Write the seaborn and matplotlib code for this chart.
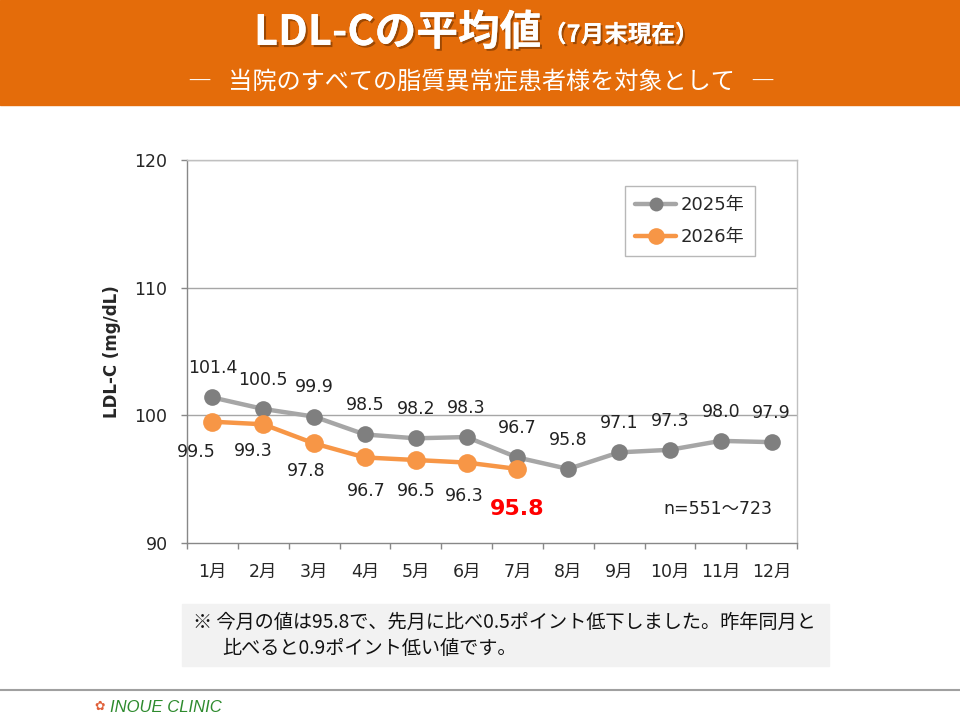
import matplotlib
matplotlib.use("Agg")
import matplotlib.pyplot as plt
import matplotlib.patheffects as pe
from matplotlib.lines import Line2D
from matplotlib.patches import Rectangle
import seaborn as sns
import pandas as pd
import numpy as np

months = ["1月", "2月", "3月", "4月", "5月", "6月", "7月", "8月", "9月", "10月", "11月", "12月"]
values_2025 = [101.4, 100.5, 99.9, 98.5, 98.2, 98.3, 96.7, 95.8, 97.1, 97.3, 98.0, 97.9]
values_2026 = [99.5, 99.3, 97.8, 96.7, 96.5, 96.3, 95.8]
series_names = ["2025年", "2026年"]
y_ticks = [90, 100, 110, 120]

sns.set_theme(style="white")
plt.rcParams['font.family'] = ['DejaVu Sans', 'Noto Sans CJK JP']
MIX = ['DejaVu Sans', 'Noto Sans CJK JP']
CJK = ['Noto Sans CJK JP', 'DejaVu Sans']

fig = plt.figure(figsize=(9.6, 7.2), dpi=100)
W, H = 960, 720

# header band
fig.patches.append(Rectangle((0, 1 - 105 / H), 1, 105 / H, transform=fig.transFigure,
                             color="#e46c0a", zorder=0))
shadow = [pe.withSimplePatchShadow(offset=(1.5, -1.5), shadow_rgbFace="#6b3000", alpha=0.6), pe.Normal()]
fig.text(541 / W, 1 - 33 / H, "LDL-Cの平均値", family=CJK, fontsize=30, fontweight="bold",
         color="white", ha="right", va="center", path_effects=shadow)
fig.text(543 / W, 1 - 35 / H, "（7月末現在）", family=CJK, fontsize=17, fontweight="bold",
         color="white", ha="left", va="center", path_effects=shadow)
fig.text(482 / W, 1 - 82 / H, "―   当院のすべての脂質異常症患者様を対象として   ―", family=CJK,
         fontsize=17.4, color="white", ha="center", va="center")

# axes
ax = fig.add_axes([187 / W, 1 - 543 / H, 610 / W, 383 / H])
df25 = pd.DataFrame({"x": np.arange(len(values_2025)), "y": values_2025})
df26 = pd.DataFrame({"x": np.arange(len(values_2026)), "y": values_2026})
sns.lineplot(data=df25, x="x", y="y", ax=ax, color="#a6a6a6", linewidth=3.2, marker="o",
             markersize=12, markerfacecolor="#7f7f7f", markeredgecolor="#7f7f7f",
             markeredgewidth=0, zorder=3)
sns.lineplot(data=df26, x="x", y="y", ax=ax, color="#f79646", linewidth=3.2, marker="o",
             markersize=13.5, markerfacecolor="#f79646", markeredgecolor="#f79646",
             markeredgewidth=0, zorder=4)

ax.set_xlim(-0.5, len(months) - 0.5)
ax.set_ylim(90, 120)
ax.set_yticks(y_ticks)
ax.set_yticklabels([str(t) for t in y_ticks], fontsize=12.5, family=['DejaVu Sans'])
ax.set_xticks(np.arange(len(months)))
ax.set_xticklabels(months, family=MIX, fontsize=12.5)
ax.set_xticks(np.arange(len(months) + 1) - 0.5, minor=True)
ax.tick_params(axis="x", which="major", length=0, pad=14)
ax.tick_params(axis="x", which="minor", length=4, direction="out", color="#888888", width=1, bottom=True)
ax.tick_params(axis="y", which="major", length=4, direction="out", color="#888888", width=1, left=True, pad=10)
ax.set_xlabel("")
ax.set_ylabel("LDL-C (mg/dL)", fontsize=12, fontweight="bold", labelpad=10, family=['DejaVu Sans'])
for yv in y_ticks[1:]:
    ax.axhline(yv, color="#a6a6a6", linewidth=1, zorder=1)
for s in ["top", "right"]:
    ax.spines[s].set_color("#c0c0c0")
    ax.spines[s].set_linewidth(1)
for s in ["left", "bottom"]:
    ax.spines[s].set_color("#888888")
    ax.spines[s].set_linewidth(1)

# labels 2025 (above)
for i, v in enumerate(values_2025):
    ax.annotate(f"{v:.1f}", (i, v), xytext=(0, 21), textcoords="offset points",
                ha="center", va="center", fontsize=12.5, color="#222222", family=['DejaVu Sans'])
# labels 2026 (below)
offs_2026 = [(-12, -22), (-7, -19), (-6, -20), (1, -24), (0, -22), (-2, -24)]
for i, v in enumerate(values_2026[:-1]):
    ax.annotate(f"{v:.1f}", (i, v), xytext=offs_2026[i], textcoords="offset points",
                ha="center", va="center", fontsize=12.5, color="#222222", family=['DejaVu Sans'])
last = len(values_2026) - 1
ax.annotate(f"{values_2026[last]:.1f}", (last, values_2026[last]), xytext=(0, -29),
            textcoords="offset points", ha="center", va="center", fontsize=16,
            fontweight="bold", color="#ff0000", family=['DejaVu Sans'])

ax.text(0.87, 1 - (509 - 160) / 383, "n=551～723", transform=ax.transAxes, ha="center", va="center",
        fontsize=12.5, color="#222222", family=MIX)

handles = [Line2D([], [], color="#a6a6a6", linewidth=3.2, marker="o", markersize=10,
                  markerfacecolor="#7f7f7f", markeredgewidth=0),
           Line2D([], [], color="#f79646", linewidth=3.2, marker="o", markersize=12,
                  markerfacecolor="#f79646", markeredgewidth=0)]
leg = ax.legend(handles, series_names, loc="upper left", bbox_to_anchor=((625 - 187) / 610, (543 - 186) / 383),
                borderaxespad=0, frameon=True, fancybox=False, edgecolor="#a6a6a6",
                handlelength=2.3, labelspacing=0.8, borderpad=0.55, handletextpad=0.25,
                prop={"family": MIX, "size": 13})
leg.get_frame().set_linewidth(1)

# note box
fig.patches.append(Rectangle((182 / W, 1 - 666 / H), (829 - 182) / W, 62 / H, transform=fig.transFigure,
                             color="#f2f2f2", zorder=0))
fig.text(193 / W, 1 - 622 / H, "※ 今月の値は95.8で、先月に比べ0.5ポイント低下しました。昨年同月と",
         family=CJK, fontsize=13.8, color="#111111", ha="left", va="center")
fig.text(222 / W, 1 - 648 / H, "比べると0.9ポイント低い値です。",
         family=CJK, fontsize=13.8, color="#111111", ha="left", va="center")

# footer
fig.add_artist(Line2D([0, 1], [1 - 690 / H, 1 - 690 / H], transform=fig.transFigure,
                      color="#a0a0a0", linewidth=1.5))
fig.text(110 / W, 1 - 707 / H, "INOUE CLINIC", fontsize=12, style="italic", color="#2e8b2e",
         ha="left", va="center", family=['Liberation Sans Narrow', 'Liberation Sans', 'DejaVu Sans'])
fig.text(100 / W, 1 - 706 / H, "✿", fontsize=9, color="#e0603a", ha="center", va="center",
         family=['DejaVu Sans'])

fig.savefig("out.png", dpi=100)
